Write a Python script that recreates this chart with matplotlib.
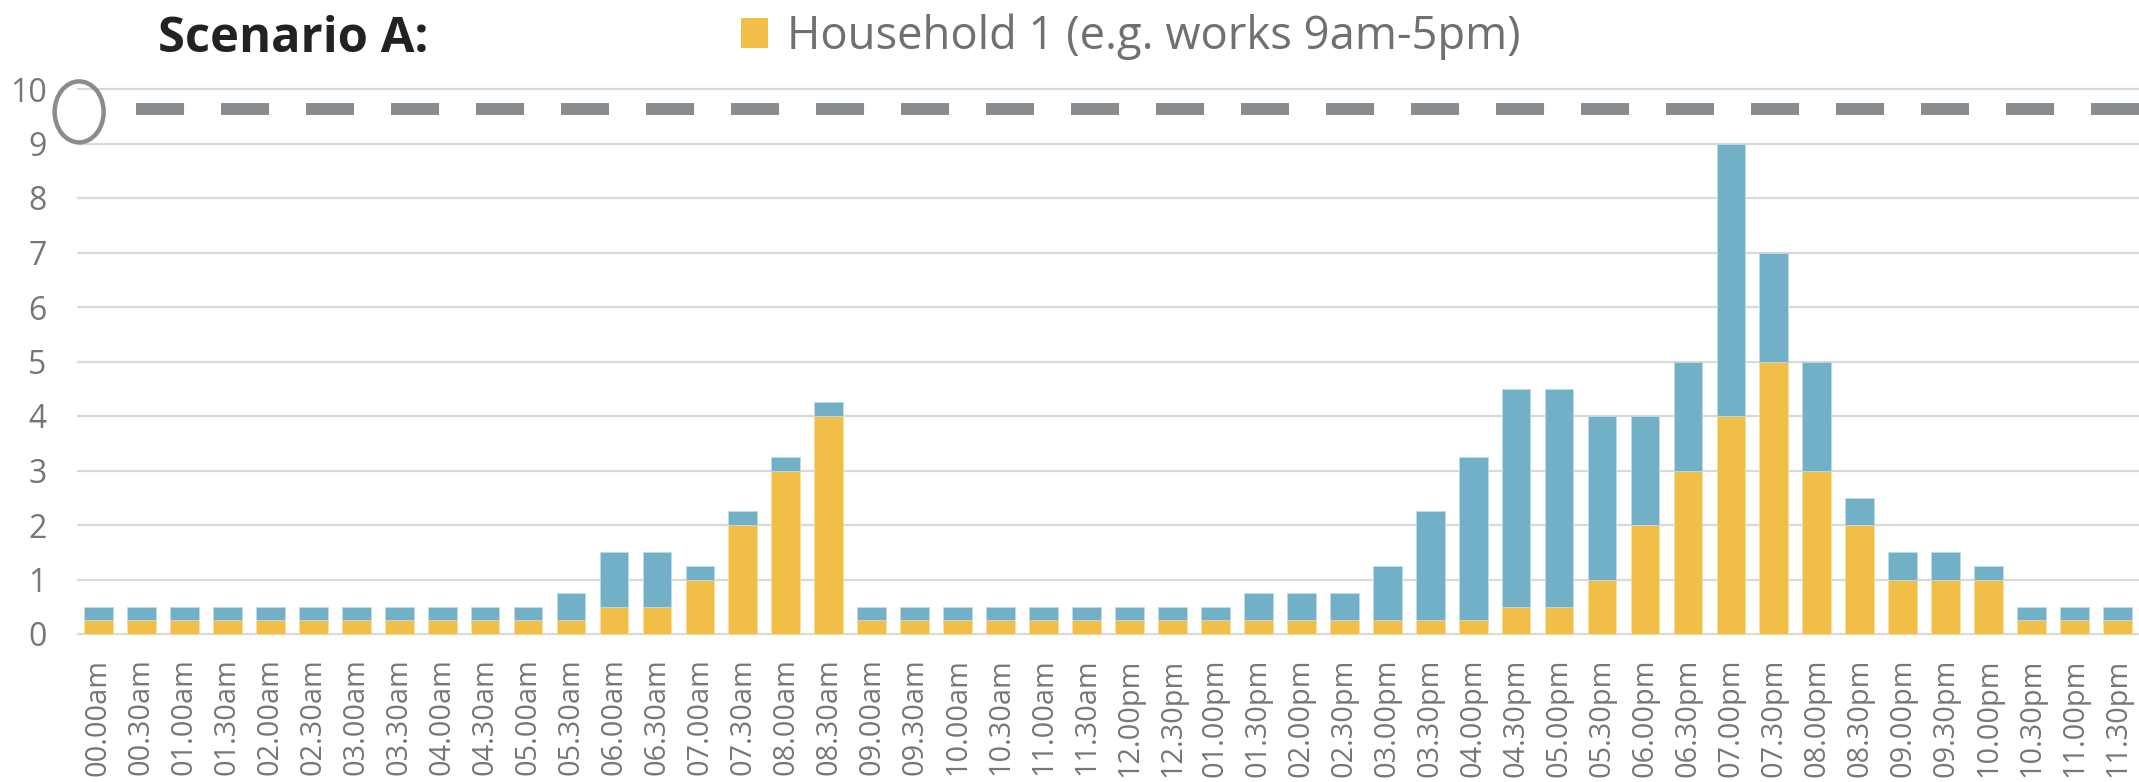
import matplotlib
matplotlib.use("Agg")
import matplotlib.pyplot as plt
from matplotlib.patches import Ellipse, Patch
import numpy as np

plt.rcParams['font.family'] = ['Open Sans', 'DejaVu Sans']
plt.rcParams['lines.scale_dashes'] = False

# ---- data ----
time_labels = [
    "00.00am", "00.30am", "01.00am", "01.30am", "02.00am", "02.30am",
    "03.00am", "03.30am", "04.00am", "04.30am", "05.00am", "05.30am",
    "06.00am", "06.30am", "07.00am", "07.30am", "08.00am", "08.30am",
    "09.00am", "09.30am", "10.00am", "10.30am", "11.00am", "11.30am",
    "12.00pm", "12.30pm", "01.00pm", "01.30pm", "02.00pm", "02.30pm",
    "03.00pm", "03.30pm", "04.00pm", "04.30pm", "05.00pm", "05.30pm",
    "06.00pm", "06.30pm", "07.00pm", "07.30pm", "08.00pm", "08.30pm",
    "09.00pm", "09.30pm", "10.00pm", "10.30pm", "11.00pm", "11.30pm",
]
household1 = [
    0.25, 0.25, 0.25, 0.25, 0.25, 0.25, 0.25, 0.25, 0.25, 0.25, 0.25, 0.25,
    0.5, 0.5, 1, 2, 3, 4,
    0.25, 0.25, 0.25, 0.25, 0.25, 0.25, 0.25, 0.25, 0.25, 0.25, 0.25, 0.25,
    0.25, 0.25, 0.25, 0.5, 0.5, 1, 2, 3, 4, 5, 3, 2, 1, 1, 1,
    0.25, 0.25, 0.25,
]
household2 = [
    0.25, 0.25, 0.25, 0.25, 0.25, 0.25, 0.25, 0.25, 0.25, 0.25, 0.25, 0.5,
    1, 1, 0.25, 0.25, 0.25, 0.25,
    0.25, 0.25, 0.25, 0.25, 0.25, 0.25, 0.25, 0.25, 0.25, 0.5, 0.5, 0.5,
    1, 2, 3, 4, 4, 3, 2, 2, 5, 2, 2, 0.5, 0.5, 0.5, 0.25,
    0.25, 0.25, 0.25,
]
capacity = 9.63
y_ticks = list(range(0, 11))
title = "Scenario A:"
legend_label = "Household 1 (e.g. works 9am-5pm)"

# ---- style ----
YELLOW = "#F1BE48"
BLUE = "#72B0C8"
GRID = "#D9D9D9"
TICK = "#767676"
DASH = "#898C8F"

W, H, DPI = 2139, 782, 100
fig = plt.figure(figsize=(W / DPI, H / DPI), dpi=DPI)

y0, y1 = -0.03, 10.05
px_per_unit = (634 - 89) / 10
ax_bottom_px = 634 + (0 - y0) * px_per_unit
ax_h_px = (y1 - y0) * px_per_unit
ax = fig.add_axes([77 / W, 1 - ax_bottom_px / H, (W - 77) / W, ax_h_px / H])

x = np.arange(len(time_labels))
bar_w = 0.67
ax.bar(x, household1, width=bar_w, color=YELLOW, edgecolor="#F7DCA0", linewidth=0.6, zorder=3)
ax.bar(x, household2, width=bar_w, bottom=household1, color=BLUE, edgecolor="#BEDCE8",
       linewidth=0.6, zorder=3)

ax.set_xlim(-0.5, len(time_labels) - 0.5)
ax.set_ylim(y0, y1)
ax.set_yticks(y_ticks)
ax.set_xticks(x)
ax.set_xticklabels(time_labels, rotation=90, fontsize=20.8, color=TICK)
ax.tick_params(axis='x', length=0, pad=16.5)
ax.tick_params(axis='y', length=0, pad=22, labelsize=23, labelcolor=TICK)
for s in ax.spines.values():
    s.set_visible(False)
ax.yaxis.grid(True, color=GRID, linewidth=1.6, zorder=0)
ax.set_axisbelow(True)

# capacity dashed line
x_start = -0.5 + 59 / ((W - 77) / len(time_labels))
ax.plot([x_start, len(time_labels) - 0.5], [capacity, capacity], color=DASH,
        linewidth=8.6, dashes=(34.6, 26.6), solid_capstyle='butt',
        dash_capstyle='butt', zorder=4, clip_on=False)

# circle marker at the left end
unit_x = (W - 77) / len(time_labels)
ell = Ellipse((-0.45, 9.58), width=49 / unit_x, height=61 / px_per_unit,
              facecolor='none', edgecolor=DASH, linewidth=3.2, clip_on=False, zorder=5)
ax.add_patch(ell)

# title
fig.text(158 / W, 1 - 52 / H, title, fontsize=35.2, fontweight='bold', color="#222222",
         ha='left', va='baseline')

# legend
handle = Patch(facecolor=YELLOW, edgecolor='none', label=legend_label)
fig.legend(handles=[handle], loc='center left', bbox_to_anchor=(741 / W, 1 - 37 / H),
           frameon=False, fontsize=32.7, labelcolor="#707070", handlelength=0.6,
           handleheight=0.64, handletextpad=0.42, borderpad=0, borderaxespad=0)

fig.savefig("out.png", dpi=DPI)
